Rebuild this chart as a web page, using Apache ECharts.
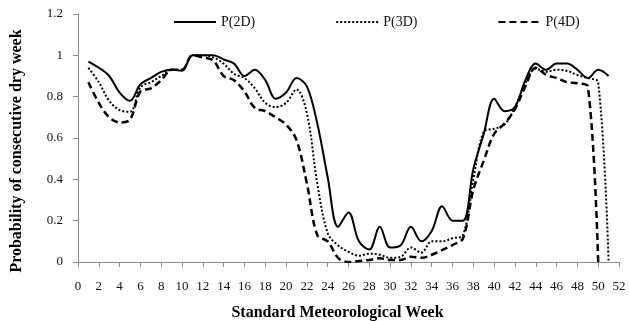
<!DOCTYPE html>
<html>
<head>
<meta charset="utf-8">
<script src="https://cdn.jsdelivr.net/npm/echarts@6/dist/echarts.min.js"></script>
<style>
  html, body { margin: 0; padding: 0; background: #fff; }
  #chart { width: 629px; height: 321px; }
</style>
</head>
<body>
<div id="chart"></div>
<script>
// weeks 1..51
const weeks = [];
for (let w = 1; w <= 51; w++) weeks.push(w);

const p2d = [0.97, 0.94, 0.90, 0.82, 0.78, 0.86, 0.89, 0.92, 0.93, 0.925,
  1.0, 1.0, 1.0, 0.98, 0.96, 0.90, 0.93, 0.88, 0.79, 0.82,
  0.89, 0.85, 0.67, 0.41, 0.17, 0.24, 0.10, 0.06, 0.17, 0.07,
  0.08, 0.17, 0.10, 0.15, 0.27, 0.20, 0.20, 0.45, 0.62, 0.79,
  0.73, 0.75, 0.88, 0.96, 0.93, 0.96, 0.96, 0.93, 0.89, 0.93,
  0.90];
const p3d = [0.94, 0.87, 0.78, 0.735, 0.727, 0.845, 0.87, 0.90, 0.93, 0.93,
  1.0, 1.0, 0.99, 0.96, 0.91, 0.89, 0.84, 0.77, 0.75, 0.77,
  0.835, 0.72, 0.38, 0.14, 0.08, 0.05, 0.03, 0.04, 0.035, 0.02,
  0.025, 0.07, 0.045, 0.10, 0.10, 0.115, 0.13, 0.40, 0.63, 0.645,
  0.665, 0.75, 0.865, 0.935, 0.92, 0.93, 0.925, 0.905, 0.89, 0.87,
  0];
const p4d = [0.87, 0.77, 0.70, 0.675, 0.69, 0.825, 0.84, 0.88, 0.93, 0.93,
  1.0, 0.99, 0.975, 0.90, 0.88, 0.825, 0.745, 0.73, 0.70, 0.665,
  0.59, 0.38, 0.13, 0.10, 0.02, 0.0, 0.005, 0.01, 0.018, 0.01,
  0.01, 0.025, 0.02, 0.035, 0.058, 0.082, 0.114, 0.35, 0.49, 0.62,
  0.67, 0.74, 0.85, 0.94, 0.905, 0.89, 0.87, 0.865, 0.85, 0];

const seriesNames = ['P(2D)', 'P(3D)', 'P(4D)'];

function pairs(vals) {
  return vals.map((v, i) => [weeks[i], v]);
}

const myChart = echarts.init(document.getElementById('chart'));
const font = 'Liberation Serif, Times New Roman, serif';

function lineSeries(name, vals, width, type) {
  return {
    name: name,
    type: 'line',
    smooth: 0.35,
    symbol: 'none',
    data: pairs(vals),
    lineStyle: { color: '#000', width: width, type: type },
    itemStyle: { color: '#000' },
  };
}

myChart.setOption({
  animation: false,
  textStyle: { fontFamily: font },
  grid: { left: 78, right: 10, top: 14, bottom: 59, containLabel: false, outerBoundsMode: 'none' },
  legend: {
    data: seriesNames,
    left: 168,
    top: 10,
    itemWidth: 42,
    itemHeight: 10,
    itemGap: 80,
    itemStyle: { opacity: 0 },
    textStyle: { fontFamily: font, fontSize: 14, color: '#111' },
  },
  xAxis: {
    type: 'value',
    min: 0,
    max: 52,
    interval: 2,
    name: 'Standard Meteorological Week',
    nameLocation: 'middle',
    nameGap: 43,
    nameTextStyle: {
      fontFamily: font, fontSize: 16, fontWeight: 'bold', color: '#000',
      padding: [0, 22, 0, 0],
    },
    axisLine: { lineStyle: { color: '#8c8c8c' } },
    axisTick: { lineStyle: { color: '#8c8c8c' }, length: 5 },
    axisLabel: { fontFamily: font, fontSize: 13, color: '#111', margin: 18 },
    splitLine: { show: false },
  },
  yAxis: {
    type: 'value',
    min: 0,
    max: 1.2,
    interval: 0.2,
    name: 'Probability of consecutive dry week',
    nameLocation: 'middle',
    nameGap: 53,
    nameTextStyle: {
      fontFamily: font, fontSize: 16, fontWeight: 'bold', color: '#000',
      padding: [0, 26, 0, 0],
    },
    axisLine: { show: true, lineStyle: { color: '#8c8c8c' } },
    axisTick: { show: true, lineStyle: { color: '#8c8c8c' }, length: 5 },
    axisLabel: { fontFamily: font, fontSize: 13, color: '#111', margin: 15 },
    splitLine: { show: false },
  },
  series: [
    lineSeries(seriesNames[0], p2d, 2, 'solid'),
    lineSeries(seriesNames[1], p3d, 2, [2, 2]),
    lineSeries(seriesNames[2], p4d, 2.5, [7, 4]),
  ],
});
</script>
</body>
</html>
